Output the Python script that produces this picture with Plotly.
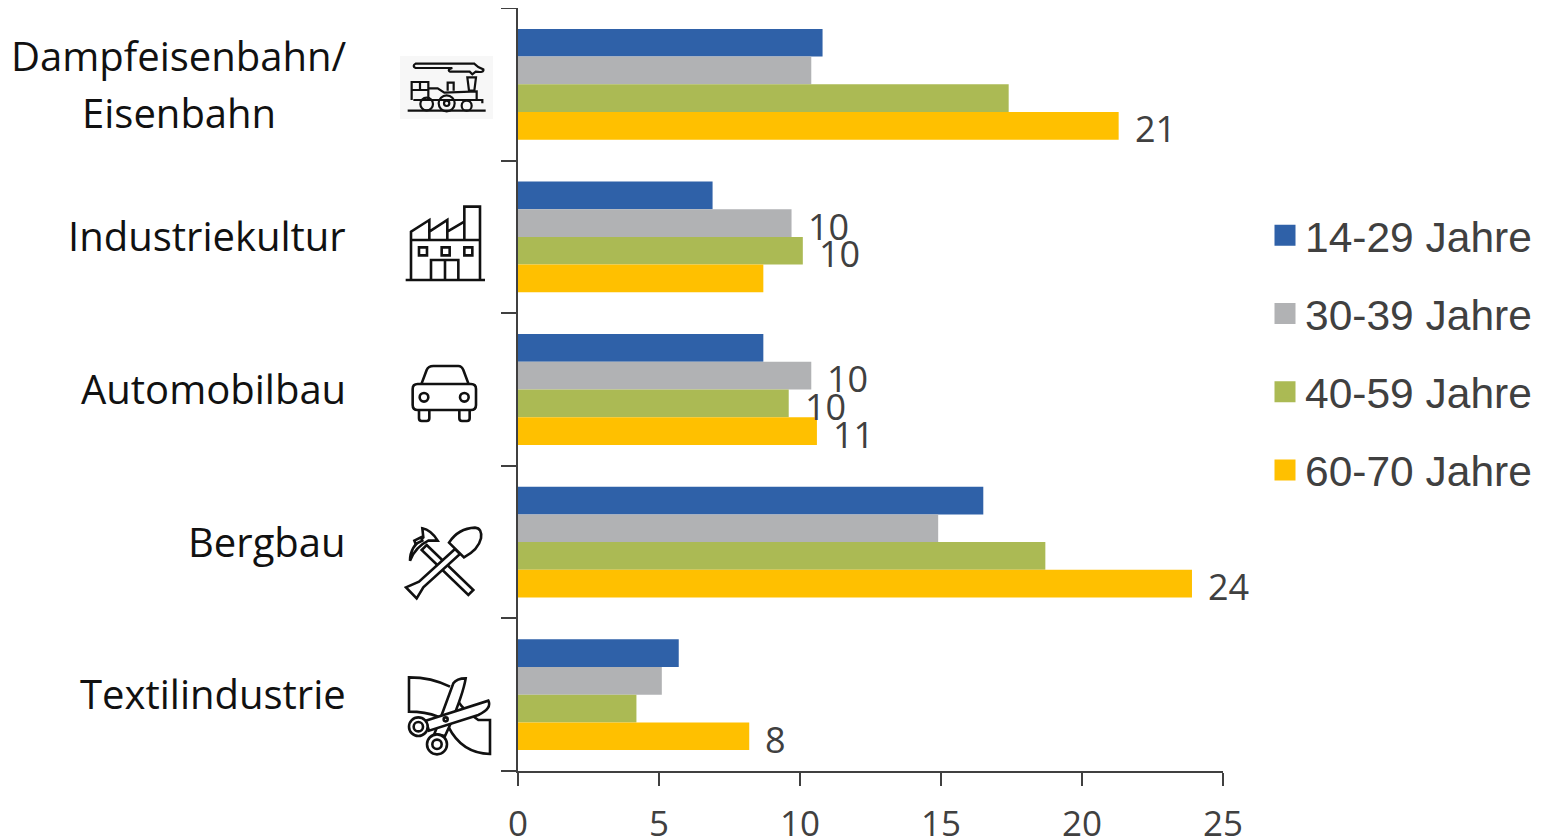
import re
import plotly.graph_objects as go

categories = [["Dampfeisenbahn/", "Eisenbahn"], ["Industriekultur"], ["Automobilbau"], ["Bergbau"], ["Textilindustrie"]]
series_names = ["14-29 Jahre", "30-39 Jahre", "40-59 Jahre", "60-70 Jahre"]
s14_29 = [10.8, 6.9, 8.7, 16.5, 5.7]
s30_39 = [10.4, 9.7, 10.4, 14.9, 5.1]
s40_59 = [17.4, 10.1, 9.6, 18.7, 4.2]
s60_70 = [21.3, 8.7, 10.6, 23.9, 8.2]
colors = ["#2F61A8", "#B1B2B4", "#ABBA54", "#FFC000"]
# (category index, series index) of the bars that carry a value label
labelled = [(0, 3), (1, 1), (1, 2), (2, 1), (2, 2), (2, 3), (3, 3), (4, 3)]
x_ticks = [0, 5, 10, 15, 20, 25]

W, H = 1548, 839
BODY = 8  # the page's default body margin
L, R, T, B = 518, 1223, 8, 771
BARGAP = 0.274
INK = "#404040"
series = [s14_29, s30_39, s40_59, s60_70]
ypos = list(range(len(categories)))

fig = go.Figure()
for name, vals, col in zip(series_names, series, colors):
    fig.add_trace(go.Bar(y=ypos, x=vals, name=name, orientation="h", legendgroup=name,
                         showlegend=False, marker=dict(color=col, line=dict(width=0))))
for name, col in zip(series_names, colors):
    fig.add_trace(go.Scatter(x=[None], y=[None], name=name, mode="markers", legendgroup=name,
                             marker=dict(symbol="square", size=16, color=col, line=dict(color=col, width=5))))

annotations = []
band = (1 - BARGAP) / 4
for c, s in labelled:
    v = series[s][c]
    annotations.append(dict(x=v, y=c + (s - 1.5) * band, xref="x", yref="y", text=str(round(v)),
                            showarrow=False, xanchor="left", xshift=14, yshift=-3,
                            font=dict(family="Open Sans", size=36, color=INK)))
CAT_FONT = dict(family="Open Sans", size=40, color="#111111")
for i, lines in enumerate(categories):
    if len(lines) == 1:
        annotations.append(dict(x=0, y=i, xref="x", yref="y", text=lines[0], showarrow=False,
                                xanchor="right", xshift=-170, yshift=1, font=CAT_FONT))
    else:
        for line, dy in zip(lines, (29, -28)):
            annotations.append(dict(x=0, y=i, xref="x", yref="y", text=line, showarrow=False,
                                    xanchor="center", xshift=-339, yshift=dy, font=CAT_FONT))


def to_paper(path, ox, oy):
    """Icon outlines are traced at 3x around an origin in page pixels; map them to paper fractions."""
    def pair(m):
        px = ox + float(m.group(1)) / 3
        py = oy + float(m.group(2)) / 3
        return f"{(px - L) / (R - L):.5f},{(B - py) / (B - T):.5f}"
    return re.sub(r"(-?[\d.]+)[ ,](-?[\d.]+)", pair, path)


def circle(cx, cy, r):
    k = 0.5523 * r
    return (f"M{cx - r} {cy} C{cx - r} {cy - k} {cx - k} {cy - r} {cx} {cy - r} "
            f"C{cx + k} {cy - r} {cx + r} {cy - k} {cx + r} {cy} "
            f"C{cx + r} {cy + k} {cx + k} {cy + r} {cx} {cy + r} "
            f"C{cx - k} {cy + r} {cx - r} {cy + k} {cx - r} {cy} Z")


shapes = []


def icon(paths, ox, oy, fill="rgba(0,0,0,0)", width=2.6):
    for p in paths:
        shapes.append(dict(type="path", xref="paper", yref="paper", path=to_paper(p, ox, oy),
                           line=dict(color="#111111", width=width), fillcolor=fill, layer="above"))


shapes.append(dict(type="rect", xref="paper", yref="paper",
                   x0=(400 - L) / (R - L), x1=(493 - L) / (R - L),
                   y0=(B - 119) / (B - T), y1=(B - 56) / (B - T),
                   fillcolor="#F7F7F7", line=dict(width=0), layer="below"))

train = [
    "M62 71 L238 71 Q250 84 265 88 Q268 99 242 95 L232 103 L224 95 L165 95 Q155 89 172 84 L62 84 Q50 78 62 71 Z",
    "M217 112 L243 112 L238 152 L222 152 Z",
    "M50 180 L50 126 L100 126 L100 180",
    "M50 150 L100 150 M75 126 L75 150",
    "M100 145 L128 145 L148 158 L245 154 L245 180",
    "M158 152 L158 128 L176 128 L176 152",
    "M55 180 L262 180",
    "M245 180 L262 180 L262 190",
    circle(95, 192, 19), circle(155, 190, 24), circle(155, 190, 8), circle(215, 197, 15),
    "M38 212 L272 212",
]
icon(train, 395, 40, width=2.2)

factory = [
    "M48 720 L48 575 L103 540 L103 600 M103 575 L157 540 L157 600 M157 575 L208 545",
    "M208 600 L208 500 L255 500 L255 720",
    "M48 600 L255 600",
    "M72 622 L96 622 L96 646 L72 646 Z M140 622 L164 622 L164 646 L140 646 Z M208 622 L232 622 L232 646 L208 646 Z",
    "M108 720 L108 660 L190 660 L190 720 M150 660 L150 720",
    "M32 720 L270 720",
]
icon(factory, 395, 40)

car = [
    "M80 100 L95 60 Q100 48 115 48 L190 48 Q200 48 205 60 L220 100",
    "M68 102 L228 102 Q243 102 243 117 L243 165 Q243 180 228 180 L68 180 Q53 180 53 165 L53 117 Q53 102 68 102 Z",
    circle(87, 142, 13), circle(208, 142, 13),
    "M72 180 L72 205 Q72 213 80 213 L95 213 Q103 213 103 205 L103 180",
    "M193 180 L193 205 Q193 213 201 213 L216 213 Q224 213 224 205 L224 180",
]
icon(car, 395, 350)

tools_back = [
    "M95 585 L235 720 L220 735 L80 600 Z",
    "M45 632 Q45 590 85 562 L82 535 Q108 540 128 572 L100 572 Q62 590 45 632 Z",
    "M58 572 L78 562 L82 572 L62 582 Z",
]
tools_front = [
    "M180 597 L72 695 L33 712 L65 745 L85 712 L195 612 Z",
    "M162 578 Q190 535 240 533 Q262 535 258 565 Q250 600 207 622 Z",
]
icon(tools_back, 395, 350, fill="#FFFFFF")
icon(tools_front, 395, 350, fill="#FFFFFF")

cloth = [
    "M165 80 Q110 52 42 52 L42 155 Q90 155 130 170",
    "M190 125 Q205 150 250 180 L285 180 L285 282 Q200 280 160 200",
]
icon(cloth, 395, 660)
blades = [
    "M140 165 L175 70 Q185 55 212 55 Q205 100 165 195 L150 228 L118 222 Z",
    "M92 182 L280 122 Q292 145 250 165 L102 212 Z",
    circle(70, 200, 28), circle(70, 200, 14),
    circle(126, 253, 30), circle(126, 253, 14),
    circle(152, 178, 6),
]
icon(blades, 395, 660, fill="#FFFFFF")

fig.update_layout(
    width=W - BODY, height=H - BODY, autosize=False,
    margin=dict(l=L - BODY, r=W - R, t=T - BODY, b=H - B, pad=0, autoexpand=False),
    paper_bgcolor="white", plot_bgcolor="white",
    barmode="group", bargap=BARGAP, bargroupgap=0,
    annotations=annotations, shapes=shapes,
    showlegend=True,
    legend=dict(x=(1265 - L) / (R - L), y=(B - 201) / (B - T), xanchor="left", yanchor="top",
                font=dict(family="Liberation Sans", size=42.5, color=INK),
                tracegroupgap=20, itemclick=False, itemdoubleclick=False,
                bgcolor="rgba(0,0,0,0)"),
    xaxis=dict(range=[0, 25], tickvals=x_ticks, ticks="outside", ticklen=13, tickwidth=1.5, tickcolor=INK,
               showline=True, linecolor=INK, linewidth=1.5, showgrid=False, zeroline=False, automargin=False,
               tickfont=dict(family="Open Sans", size=35, color=INK), ticklabelstandoff=8),
    yaxis=dict(range=[4.5, -0.5], tickvals=[i - 0.5 for i in range(len(categories) + 1)],
               showticklabels=False, ticks="outside", ticklen=15, tickwidth=1.5, tickcolor=INK,
               showline=True, linecolor=INK, linewidth=1.5, showgrid=False, zeroline=False),
)
fig.write_html("out.html", config=dict(displayModeBar=False))
